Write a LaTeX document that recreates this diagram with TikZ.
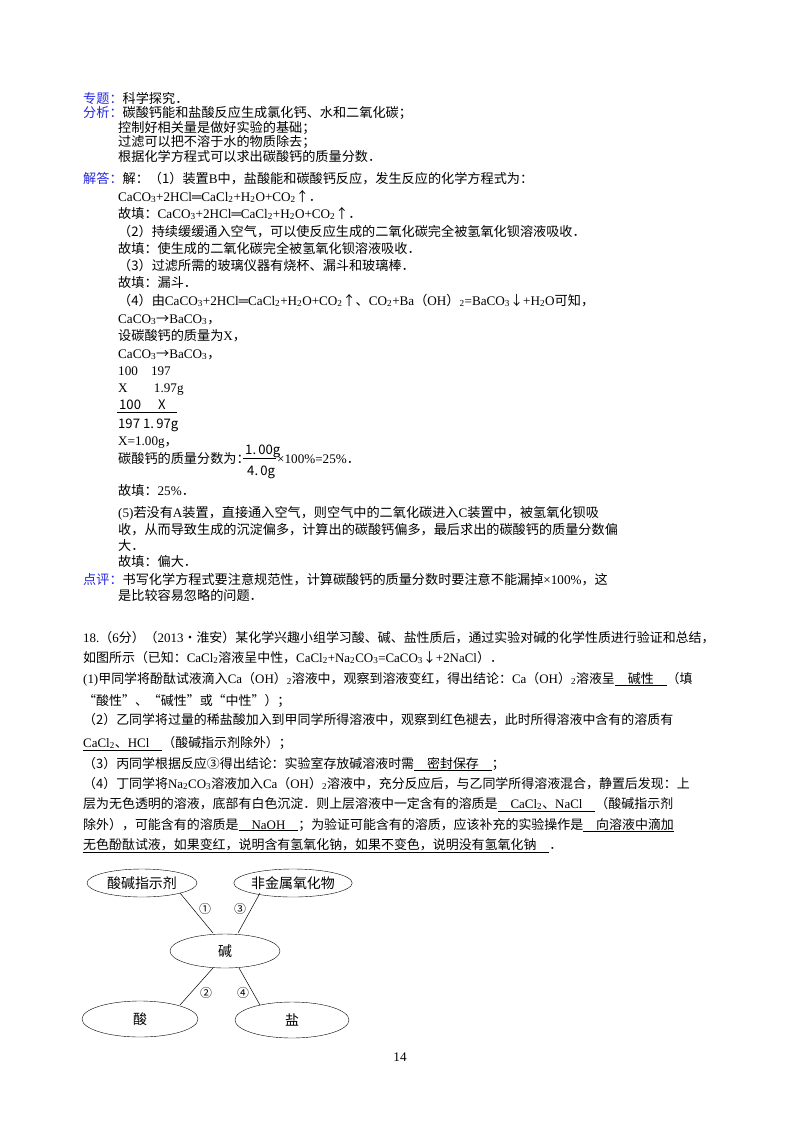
\documentclass[tikz,border=0pt]{standalone}
\usepackage{fontspec}
\usetikzlibrary{shapes.geometric}
\setmainfont{Noto Sans CJK SC}
\newfontfamily\la{Liberation Serif}
\newcommand{\sbs}[1]{\textsubscript{#1}}
\definecolor{lbl}{RGB}{40,40,220}
\begin{document}
\begin{tikzpicture}[x=1bp,y=-1bp,
  tx/.style={anchor=base west,inner sep=0,font=\fontsize{13.2}{16}\selectfont},
  q/.style={anchor=base west,inner sep=0,font=\fontsize{13.0}{16}\selectfont},
  el/.style={draw,ellipse,minimum width=110bp,minimum height=28bp,inner sep=0,font=\fontsize{14}{16}\selectfont},
  ln/.style={line width=0.5pt},
  ci/.style={inner sep=0,font=\fontsize{12}{14}\selectfont}]
\useasboundingbox (0,0) rectangle (800,1132);
\fill[white] (0,0) rectangle (800,1132);
% analysis part
\node[tx] (l1) at (83,103) {\textcolor{lbl}{专题：}科学探究．};
\node[tx] (l2) at (83,117) {\textcolor{lbl}{分析：}碳酸钙能和盐酸反应生成氯化钙、水和二氧化碳；};
\node[tx] (l3) at (118,132) {控制好相关量是做好实验的基础；};
\node[tx] (l4) at (118,146) {过滤可以把不溶于水的物质除去；};
\node[tx] (l5) at (118,161) {根据化学方程式可以求出碳酸钙的质量分数．};
\node[tx] (l6) at (83,183) {\textcolor{lbl}{解答：}解：（1）装置{\la B}中，盐酸能和碳酸钙反应，发生反应的化学方程式为：};
\node[tx] (l7) at (118,201) {{\la CaCO\sbs{3}+2HCl═CaCl\sbs{2}+H\sbs{2}O+CO\sbs{2}}↑．};
\node[tx] (l8) at (118,218) {故填：{\la CaCO\sbs{3}+2HCl═CaCl\sbs{2}+H\sbs{2}O+CO\sbs{2}}↑．};
\node[tx] (l9) at (118,236) {（2）持续缓缓通入空气，可以使反应生成的二氧化碳完全被氢氧化钡溶液吸收．};
\node[tx] (l10) at (118,253) {故填：使生成的二氧化碳完全被氢氧化钡溶液吸收．};
\node[tx] (l11) at (118,270) {（3）过滤所需的玻璃仪器有烧杯、漏斗和玻璃棒．};
\node[tx] (l12) at (118,287) {故填：漏斗．};
\node[tx] (l13) at (118,305) {（4）由{\la CaCO\sbs{3}+2HCl═CaCl\sbs{2}+H\sbs{2}O+CO\sbs{2}}↑、{\la CO\sbs{2}+Ba}（{\la OH}）{\la\sbs{2}=BaCO\sbs{3}}↓{\la +H\sbs{2}O}可知，};
\node[tx] (l14) at (118,323) {{\la CaCO\sbs{3}}→{\la BaCO\sbs{3}}，};
\node[tx] (l15) at (118,340) {设碳酸钙的质量为{\la X}，};
\node[tx] (l16) at (118,358) {{\la CaCO\sbs{3}}→{\la BaCO\sbs{3}}，};
\node[tx] (l17) at (118,375) {\la 100\quad 197};
\node[tx] (l18) at (118,392) {\la X\qquad 1.97g};
\node[tx] (f1) at (119,409) {100};
\node[tx] (f2) at (158,409) {X};
\node[tx] (f3) at (118,428) {197};
\node[tx] (f4) at (143,428) {1.\,97g};
\draw[ln] (117,412) -- (177,412);
\node[tx] (l22) at (118,445) {{\la X=1.00g}，};
\node[tx] (l23) at (118,463) {碳酸钙的质量分数为：};
\node[tx] (g1) at (245,454) {1.\,00g};
\node[tx] (g2) at (247,475) {4.\,0g};
\draw[ln] (243,458) -- (276,458);
\node[tx] (g3) at (277,463) {{\la ×100\%=25\%}．};
\node[tx] (l24) at (118,495) {故填：{\la 25\%}．};
\node[tx] (l25) at (118,517) {{\la (5)}若没有{\la A}装置，直接通入空气，则空气中的二氧化碳进入{\la C}装置中，被氢氧化钡吸};
\node[tx] (l26) at (118,534) {收，从而导致生成的沉淀偏多，计算出的碳酸钙偏多，最后求出的碳酸钙的质量分数偏};
\node[tx] (l27) at (118,550) {大．};
\node[tx] (l28) at (118,566) {故填：偏大．};
\node[tx] (l29) at (83,584) {\textcolor{lbl}{点评：}书写化学方程式要注意规范性，计算碳酸钙的质量分数时要注意不能漏掉{\la ×100\%}，这};
\node[tx] (l30) at (118,600) {是比较容易忽略的问题．};
% question 18
\node[q] (q1) at (83,642) {{\la 18.}（{\la 6}分）（{\la 2013}•淮安）某化学兴趣小组学习酸、碱、盐性质后，通过实验对碱的化学性质进行验证和总结，};
\node[q] (q2) at (83,662) {如图所示（已知：{\la CaCl\sbs{2}}溶液呈中性，{\la CaCl\sbs{2}+Na\sbs{2}CO\sbs{3}=CaCO\sbs{3}}↓{\la +2NaCl}）．};
\node[q] (q3) at (83,683) {{\la (1)}甲同学将酚酞试液滴入{\la Ca}（{\la OH}）{\la\sbs{2}}溶液中，观察到溶液变红，得出结论：{\la Ca}（{\la OH}）{\la\sbs{2}}溶液呈\underline{\quad 碱性\quad}（填};
\node[q] (q4) at (83,705) {“酸性”、“碱性”或“中性”）；};
\node[q] (q5) at (83,724) {（2）乙同学将过量的稀盐酸加入到甲同学所得溶液中，观察到红色褪去，此时所得溶液中含有的溶质有};
\node[q] (q6) at (83,747) {\underline{{\la CaCl\sbs{2}}、{\la HCl}\quad}（酸碱指示剂除外）；};
\node[q] (q7) at (83,768) {（3）丙同学根据反应③得出结论：实验室存放碱溶液时需\underline{\quad 密封保存\quad}；};
\node[q] (q8) at (83,788) {（4）丁同学将{\la Na\sbs{2}CO\sbs{3}}溶液加入{\la Ca}（{\la OH}）{\la\sbs{2}}溶液中，充分反应后，与乙同学所得溶液混合，静置后发现：上};
\node[q] (q9) at (83,808) {层为无色透明的溶液，底部有白色沉淀．则上层溶液中一定含有的溶质是\underline{\quad{\la CaCl\sbs{2}}、{\la NaCl}\quad}（酸碱指示剂};
\node[q] (q10) at (83,829) {除外），可能含有的溶质是\underline{\quad{\la NaOH}\quad}；为验证可能含有的溶质，应该补充的实验操作是\underline{\quad 向溶液中滴加}};
\node[q] (q11) at (83,849) {\underline{无色酚酞试液，如果变红，说明含有氢氧化钠，如果不变色，说明没有氢氧化钠\quad}．};
% diagram
\node[el] (a) at (142,883) {酸碱指示剂};
\node[el] (b) at (293,883) {非金属氧化物};
\node[el,minimum height=34bp] (c) at (225,951) {碱};
\node[el,minimum width=116bp,minimum height=36bp] (d) at (140,1019) {酸};
\node[el,minimum width=114bp,minimum height=36bp] (e) at (292,1020) {盐};
\coordinate (a1) at (180,893); \coordinate (c1) at (213,933);
\coordinate (b1) at (260,893); \coordinate (c2) at (238,933);
\coordinate (c3) at (213,968); \coordinate (d1) at (180,1005);
\coordinate (c4) at (239,968); \coordinate (e1) at (260,1005);
\draw[ln] (a1) -- (c1);
\draw[ln] (b1) -- (c2);
\draw[ln] (c3) -- (d1);
\draw[ln] (c4) -- (e1);
\node[ci] (n1) at (205,909) {①};
\node[ci] (n3) at (240,909) {③};
\node[ci] (n2) at (206,993) {②};
\node[ci] (n4) at (243,993) {④};
\node[tx,anchor=center] (pg) at (400,1057) {\la 14};
\end{tikzpicture}
\end{document}
